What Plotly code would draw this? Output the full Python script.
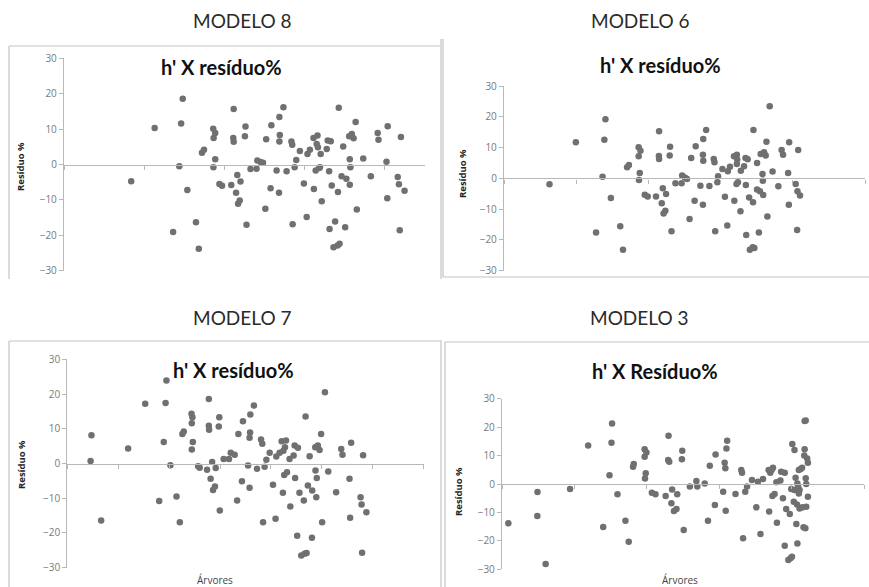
import plotly.graph_objects as go

W, H = 869, 587

# ---------------- data (x = h', y = resíduo %) ----------------
m8_x = [16.75, 22.6, 27.2, 28.75, 29.2, 29.6, 30.75, 32.9, 33.6, 34.4, 34.9, 37.2, 37.3, 37.7, 37.7, 37.25,
        38.75, 39.4, 41.7, 42.3, 42.2, 42.3, 42.9, 43.2, 43.4, 43.8, 44.0, 45.1, 45.25, 45.5, 46.5, 48.0,
        48.2, 49.0, 49.6, 50.2, 50.4, 51.5, 51.7, 53.0, 53.6, 53.7, 53.8, 53.7, 54.7, 55.5, 56.7, 56.9,
        57.0, 57.5, 57.9, 58.8, 59.8, 60.5, 60.7, 61.3, 62.2, 62.3, 62.75, 63.0, 63.2, 63.3, 63.6, 63.8,
        64.0, 64.25, 65.5, 65.75, 66.1, 66.2, 66.5, 66.75, 67.2, 67.6, 68.2, 68.3, 68.5, 68.7, 69.2, 69.6,
        70.1, 70.4, 71.1, 71.25, 71.25, 71.4, 71.75, 72.2, 72.7, 73.0, 74.6, 76.5, 78.2, 78.4, 80.4, 80.6,
        80.7, 83.2, 83.5, 83.7, 84.0, 84.9]
m8_y = [-4.7, 10.3, -19.1, -0.5, 11.6, 18.6, -7.2, -16.3, -23.8, 3.3, 4.2, 10.1, 7.5, 8.9, 1.5, -0.8,
        -5.5, -6.0, -5.8, 15.7, 7.5, 6.4, -8.0, -3.0, -11.1, -10.2, -4.8, 8.0, 10.7, -17.0, -1.3, -1.2,
        1.1, 0.7, 0.5, -12.5, 7.1, -6.7, 11.1, -1.7, -8.0, 13.4, 8.3, 6.5, 16.2, -1.9, 6.5, 5.6,
        -16.9, -0.8, 1.3, 3.8, -5.4, -14.8, 3.0, 4.2, 7.5, -6.9, -1.7, 5.8, 8.2, 4.9, -1.0, -0.8,
        3.0, -10.4, 4.4, 6.8, -1.9, -18.2, 6.6, -5.9, -23.4, -16.1, -22.9, -7.8, 16.0, -22.4, -3.3, 5.1,
        -17.7, -4.0, 8.0, 1.5, -5.7, -0.8, 8.6, 7.4, 12.0, -12.7, 1.7, -3.3, 8.9, 7.0, 0.8, -9.5,
        10.8, -3.5, -5.6, -18.6, 7.8, -7.4]

m6_x = [12.6, 19.9, 25.5, 27.3, 27.8, 28.1, 29.6, 32.2, 32.96, 34.1, 34.6, 37.3, 37.3, 37.8, 37.6, 37.4,
        39.0, 39.8, 42.1, 42.96, 42.9, 42.96, 43.7, 43.98, 44.2, 44.7, 44.9, 45.9, 46.0, 46.4, 47.5, 49.2,
        49.35, 50.1, 50.7, 51.4, 51.85, 52.8, 53.1, 54.4, 55.1, 55.2, 55.1, 55.2, 56.0, 56.9, 58.1, 58.3,
        58.5, 59.1, 59.3, 60.5, 61.2, 61.85, 62.0, 62.6, 63.7, 63.8, 64.4, 64.5, 64.5, 64.6, 64.8, 65.6,
        65.5, 66.5, 66.9, 67.0, 67.1, 67.5, 67.9, 68.1, 68.9, 69.1, 69.35, 68.98, 70.1, 70.1, 70.6, 70.9,
        71.1, 71.6, 71.7, 71.8, 72.04, 72.5, 72.7, 72.96, 73.6, 74.4, 76.0, 76.9, 77.3, 78.7, 78.9, 79.0,
        80.8, 81.2, 81.3, 81.5, 82.0]
m6_y = [-1.95, 11.7, -17.6, 0.5, 12.5, 19.2, -6.4, -15.6, -23.2, 3.6, 4.3, 10.1, 7.2, 9.0, 1.7, -0.5,
        -5.3, -5.9, -5.9, 15.3, 7.3, 6.3, -8.1, -3.25, -11.4, -10.5, -5.1, 7.4, 10.3, -17.2, -1.6, -1.6,
        0.9, 0.3, -0.2, -13.2, 6.6, -7.3, 10.4, -2.4, -8.6, 12.8, 7.7, 5.7, 15.7, -2.5, 6.3, 5.2,
        -17.2, -1.3, 0.65, 3.0, -6.0, -15.3, 2.3, 3.8, 7.2, -7.3, -1.8, 4.7, 7.7, 6.1, -1.3, 2.5,
        -10.7, 3.9, 6.6, -2.2, -18.4, 6.2, -6.2, -23.2, -22.4, 15.7, -22.6, -7.8, 5.0, -3.6, -17.6, -4.2,
        7.9, 1.4, -0.8, -5.4, 8.45, 7.4, 11.9, -12.4, 23.4, 2.2, -2.6, 9.2, 7.7, 1.7, -8.6, 11.7,
        -1.8, -16.8, -4.2, 9.2, -5.6]

m7_x = [9.15, 9.5, 13.3, 23.9, 30.6, 36.1, 37.9, 38.6, 38.95, 40.5, 42.9, 44.2, 45.2, 45.75, 48.8, 48.9,
        49.15, 49.3, 48.9, 51.4, 52.0, 54.9, 55.6, 55.6, 55.7, 56.3, 56.9, 57.25, 58.0, 58.3, 59.5, 59.7,
        59.9, 61.4, 63.5, 64.2, 65.75, 66.7, 67.2, 68.6, 69.0, 71.0, 71.6, 71.8, 71.6, 71.9, 73.3, 74.5,
        76.1, 76.6, 76.9, 77.5, 78.2, 79.5, 80.8, 81.8, 82.1, 83.4, 84.2, 84.7, 84.9, 85.2, 85.5, 85.9,
        86.3, 87.3, 87.6, 88.9, 89.3, 89.5, 90.3, 90.6, 91.2, 91.9, 92.9, 93.2, 93.6, 94.0, 94.5, 95.2,
        96.1, 96.2, 97.4, 97.5, 97.8, 98.0, 98.4, 99.1, 99.7, 100.1, 101.2, 102.5, 105.6, 107.6, 108.1, 110.85,
        111.1, 111.5, 115.2, 115.6, 115.8, 116.2, 117.5]
m7_y = [0.7, 8.1, -16.4, 4.3, 17.2, -10.8, 6.2, 17.4, 23.9, -0.5, -9.5, -16.9, 8.5, 9.2, 14.3, 11.6,
        13.3, 6.2, 4.0, -0.8, -1.25, -1.8, 18.6, 10.9, 9.7, -4.4, 0.4, -7.6, -6.6, -1.3, 10.65, 13.3,
        -13.5, 1.3, 1.3, 3.1, 2.5, -10.65, 8.5, -5.1, 12.2, -0.6, 7.4, 8.9, -7.0, 14.1, 16.7, -1.5,
        6.9, 5.7, -16.9, -0.9, 1.05, 3.1, -6.1, -15.9, 2.0, 3.1, 6.4, -8.4, 3.7, -3.3, 4.7, 6.6,
        -2.5, 1.3, -12.4, 2.3, 5.2, -4.2, -20.8, 4.5, -8.4, -26.5, -10.65, -26.0, 13.5, -25.8, -6.3, 2.1,
        -21.4, -7.8, 4.7, -2.0, -9.7, -4.2, 5.2, 3.9, 8.5, -16.9, 20.5, -2.3, -8.25, 4.2, 2.5, -4.4,
        -15.6, 5.95, -9.7, -11.8, -25.7, 2.4, -14.0]

m3_x = [1.75, 9.8, 9.75, 12.05, 18.8, 23.8, 27.95, 29.7, 30.25, 30.4, 31.9, 34.1, 35.0, 36.2, 36.4, 39.4,
        39.4, 39.9, 39.7, 39.5, 41.4, 42.4, 45.2, 46.0, 45.9, 46.2, 47.0, 46.8, 47.5, 48.2, 48.4, 49.7,
        49.8, 50.2, 51.9, 53.7, 53.95, 56.0, 56.9, 57.4, 58.8, 59.0, 61.1, 61.5, 61.7, 61.8, 62.0, 62.2,
        64.5, 66.1, 66.3, 66.6, 67.2, 67.7, 69.05, 70.25, 70.7, 71.4, 72.1, 73.65, 73.8, 74.1, 74.5, 74.7,
        74.85, 75.3, 75.8, 75.95, 76.9, 77.1, 77.6, 78.1, 78.1, 78.5, 79.1, 79.5, 79.7, 80.1, 79.9, 80.2,
        80.6, 80.8, 80.8, 81.1, 81.3, 81.5, 81.6, 81.6, 81.8, 82.0, 82.0, 82.2, 82.2, 82.5, 82.9, 83.0,
        83.3, 83.5, 83.6, 83.6, 83.9, 83.8, 83.9, 84.05, 84.05, 84.3, 84.5, 84.5]
m3_y = [-13.8, -2.8, -11.25, -28.1, -1.75, 13.5, -15.1, 3.05, 14.5, 21.3, -3.6, -12.9, -20.3, 6.1, 7.0, 12.2,
        9.6, 11.1, 3.75, 1.9, -3.05, -3.6, -4.2, 17.0, 8.4, 7.85, -1.9, -6.8, -9.5, -8.8, -3.6, 8.7,
        11.7, -16.2, -0.9, 1.05, -0.9, 0.2, -12.9, 6.45, -7.4, 10.4, -2.7, 7.5, 5.5, -9.4, 12.5, 15.2,
        -3.5, 4.9, 4.0, -19.1, -2.7, -0.9, 1.4, -8.2, 0.8, -17.6, 1.75, 4.9, -9.7, 4.0, 4.9, -4.2,
        5.7, -3.5, 0.6, -13.6, 1.2, 4.3, -5.0, 4.0, -21.7, -8.8, -26.7, -10.55, -26.1, -25.6, -1.75, 14.1,
        -6.2, -2.1, 12.0, 2.2, -14.1, -7.2, -20.9, 0.2, -0.9, -3.3, 4.9, -8.6, -2.1, 5.3, 5.7, -8.2,
        -15.2, 10.0, 12.2, 22.2, 22.3, -15.6, 2.0, -8.0, 0.0, 9.0, 7.5, -4.5]

panel_titles = ["MODELO 8", "MODELO 6", "MODELO 7", "MODELO 3"]
chart_titles = ["h' X resíduo%", "h' X resíduo%", "h' X resíduo%", "h' X Resíduo%"]
y_title = "Resíduo %"
x_title = "Árvores"
x_max = [90, 100, 140, 100]
y_ticks = [-30, -20, -10, 0, 10, 20, 30]

series = [(m8_x, m8_y), (m6_x, m6_y), (m7_x, m7_y), (m3_x, m3_y)]

# ---------------- layout (pixels) ----------------
def px(x):
    return x / W

def py(y):
    return 1 - y / H

# plot areas: (left, right, top(=30), bottom(=-30)) in pixels
areas = [(64, 425, 58.3, 270.7),
         (504, 865, 86, 270.7),
         (67.3, 423.7, 359.3, 567.7),
         (502, 864, 398.7, 569.3)]

fig = go.Figure()
layout = dict(width=W, height=H, margin=dict(l=0, r=0, t=0, b=0, pad=0), autosize=False,
              paper_bgcolor="white", plot_bgcolor="rgba(0,0,0,0)", showlegend=False)

for i, ((xs, ys), (l, r, t, b)) in enumerate(zip(series, areas)):
    n = "" if i == 0 else str(i + 1)
    fig.add_trace(go.Scatter(x=xs, y=ys, mode="markers", xaxis="x" + n, yaxis="y" + n,
                             marker=dict(size=6.5, color="#707070"), hoverinfo="x+y"))
    zero = (py(t) + py(b)) / 2
    layout["xaxis" + n] = dict(domain=[px(l), px(r)], range=[0, x_max[i]], dtick=20,
                               anchor="free", position=zero, showline=True, linecolor="#b8b8b8",
                               linewidth=1.3, ticks="outside", ticklen=4, tickcolor="#b8b8b8",
                               showticklabels=False, showgrid=False, zeroline=False, automargin=False)
    layout["yaxis" + n] = dict(domain=[py(b), py(t)], range=[-30, 30], tickvals=y_ticks,
                               anchor="x" + n, showline=True, linecolor="#b8b8b8", linewidth=1.3,
                               ticks="outside", ticklen=4, tickcolor="#b8b8b8", automargin=False,
                               tickfont=dict(family="Open Sans, Liberation Sans", size=10, color="#7a7a7a"),
                               showgrid=False, zeroline=False)

annotations = []
# panel headings
for txt, (x, y) in zip(panel_titles, [(242, 20), (640, 20), (242, 317), (639, 317)]):
    annotations.append(dict(text=txt, x=px(x), y=py(y), xref="paper", yref="paper", showarrow=False,
                            xanchor="center", yanchor="middle",
                            font=dict(family="Lato, Noto Sans", size=19, color="#2a2a2a")))
# chart titles
for txt, (x, y) in zip(chart_titles, [(221, 67), (660, 65), (234, 370), (655, 371)]):
    annotations.append(dict(text="<b>" + txt + "</b>", x=px(x), y=py(y), xref="paper", yref="paper",
                            showarrow=False, xanchor="center", yanchor="middle",
                            font=dict(family="Lato, Open Sans", size=20, color="#111111")))
# y-axis titles
for (x, y) in [(20, 167), (462, 173), (22, 465), (458, 492)]:
    annotations.append(dict(text="<b>" + y_title + "</b>", x=px(x), y=py(y), xref="paper", yref="paper",
                            showarrow=False, textangle=-90, xanchor="center", yanchor="middle",
                            font=dict(family="Open Sans, Liberation Sans", size=9.5, color="#222222")))
# x-axis titles
for (x, y) in [(215, 580), (680, 580)]:
    annotations.append(dict(text=x_title, x=px(x), y=py(y), xref="paper", yref="paper",
                            showarrow=False, xanchor="center", yanchor="middle",
                            font=dict(family="Open Sans, Liberation Sans", size=10, color="#444444")))
layout["annotations"] = annotations

# chart border lines
border = "#c4c4c4"
segs = [
    (9, 46, 440, 46), (9, 46, 9, 279), (441, 39, 441, 279),
    (443, 39, 443, 277), (443, 277, 869, 277),
    (9, 341, 440, 341), (9, 341, 9, 587), (441, 340, 441, 587),
    (445, 342, 445, 587), (445, 342, 869, 342),
]
layout["shapes"] = [dict(type="line", xref="paper", yref="paper", x0=px(a), y0=py(b), x1=px(c), y1=py(d),
                         line=dict(color=border, width=1.2)) for a, b, c, d in segs]

fig.update_layout(**layout)
fig.write_html("out.html", config={"displayModeBar": False},
               post_script="document.body.style.margin='0';document.body.style.padding='0';"
                           "document.body.style.overflow='hidden';")
